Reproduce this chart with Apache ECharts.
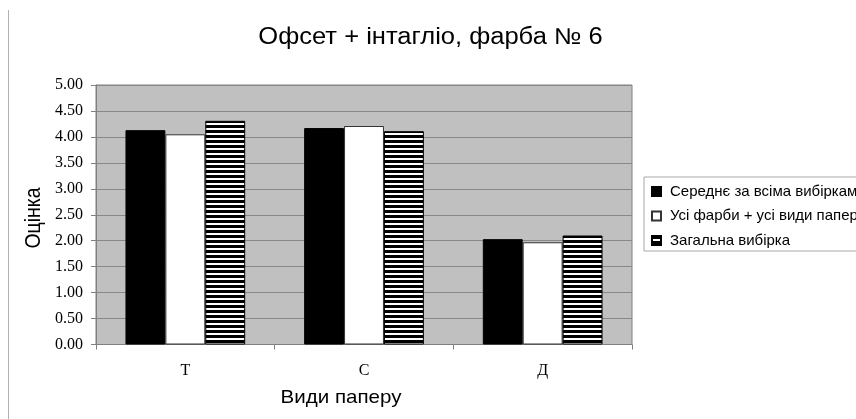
<!DOCTYPE html>
<html><head><meta charset="utf-8">
<script src="https://cdn.jsdelivr.net/npm/echarts@6/dist/echarts.min.js"></script>
<style>html,body{margin:0;padding:0;background:#fff}#c{width:856px;height:419px}</style>
</head><body><div id="c"></div>
<script>
const categories = ['Т', 'С', 'Д'];
const seriesNames = ['Середнє за всіма вибірками', 'Усі фарби + усі види паперу', 'Загальна вибірка'];
const meanAll = [4.13, 4.17, 2.03];
const allInks = [4.05, 4.21, 1.97];
const overall = [4.31, 4.11, 2.10];
const yTicks = { min: 0, max: 5, interval: 0.5 };

const pc = document.createElement('canvas');
pc.width = 4; pc.height = 5;
const g = pc.getContext('2d');
g.fillStyle = '#ffffff'; g.fillRect(0, 0, 4, 5);
g.fillStyle = '#000000'; g.fillRect(0, 0, 4, 3);
const stripe = { image: pc, repeat: 'repeat' };

const chart = echarts.init(document.getElementById('c'));
const font = '"Liberation Sans", Arial, sans-serif';
const serif = '"Liberation Serif", "Times New Roman", serif';
const sx = 1.11;
chart.setOption({
  animation: false,
  backgroundColor: '#ffffff',
  legend: {
    orient: 'vertical', left: 644, top: 177,
    itemWidth: 9, itemHeight: 9, itemGap: 9.5,
    padding: [7, 8, 3, 7],
    borderColor: '#a8a8a8', borderWidth: 1, backgroundColor: '#fff',
    textStyle: { fontFamily: font, fontSize: 15, color: '#000', padding: [0, 0, 0, 4] },
    data: seriesNames.map(n => ({ name: n, icon: 'rect' }))
  },
  grid: {
    left: 96, right: 224, top: 85, bottom: 74.5,
    show: true, backgroundColor: '#c0c0c0', borderColor: '#808080', borderWidth: 1
  },
  graphic: [
    { type: 'line', shape: { x1: 8.5, y1: 10, x2: 8.5, y2: 419 }, style: { stroke: '#b0b0b0', lineWidth: 1 } },
    { type: 'text', x: 430.5, y: 38, scaleX: sx, style: { text: 'Офсет + інтагліо, фарба № 6', font: '23px ' + font, fill: '#000', align: 'center', verticalAlign: 'middle' } },
    { type: 'text', x: 341, y: 398, scaleX: sx, style: { text: 'Види паперу', font: '18.5px ' + font, fill: '#000', align: 'center', verticalAlign: 'middle' } },
    { type: 'text', x: 34.5, y: 218, rotation: Math.PI / 2, scaleY: sx, style: { text: 'Оцінка', font: '19.5px ' + font, fill: '#000', align: 'center', verticalAlign: 'middle' } }
  ],
  xAxis: {
    type: 'category', data: categories,
    axisLine: { lineStyle: { color: '#808080' } },
    axisTick: { show: true, length: 5, lineStyle: { color: '#808080' } },
    axisLabel: { fontFamily: serif, fontSize: 16, color: '#000', margin: 18 }
  },
  yAxis: {
    type: 'value', min: yTicks.min, max: yTicks.max, interval: yTicks.interval,
    axisLine: { show: true, lineStyle: { color: '#808080' } },
    axisTick: { show: true, length: 5, lineStyle: { color: '#808080' } },
    splitLine: { lineStyle: { color: '#888888' } },
    axisLabel: { fontFamily: serif, fontSize: 16, color: '#000', margin: 13, formatter: v => v.toFixed(2) }
  },
  series: [
    { name: seriesNames[0], type: 'bar', data: meanAll, barGap: '0%', barCategoryGap: '33%',
      itemStyle: { color: '#000', borderColor: '#000', borderWidth: 1 } },
    { name: seriesNames[1], type: 'bar', data: allInks,
      itemStyle: { color: '#fff', borderColor: '#333', borderWidth: 1 } },
    { name: seriesNames[2], type: 'bar', data: overall,
      itemStyle: { color: stripe, borderColor: '#000', borderWidth: 1 } }
  ]
});
</script></body></html>
